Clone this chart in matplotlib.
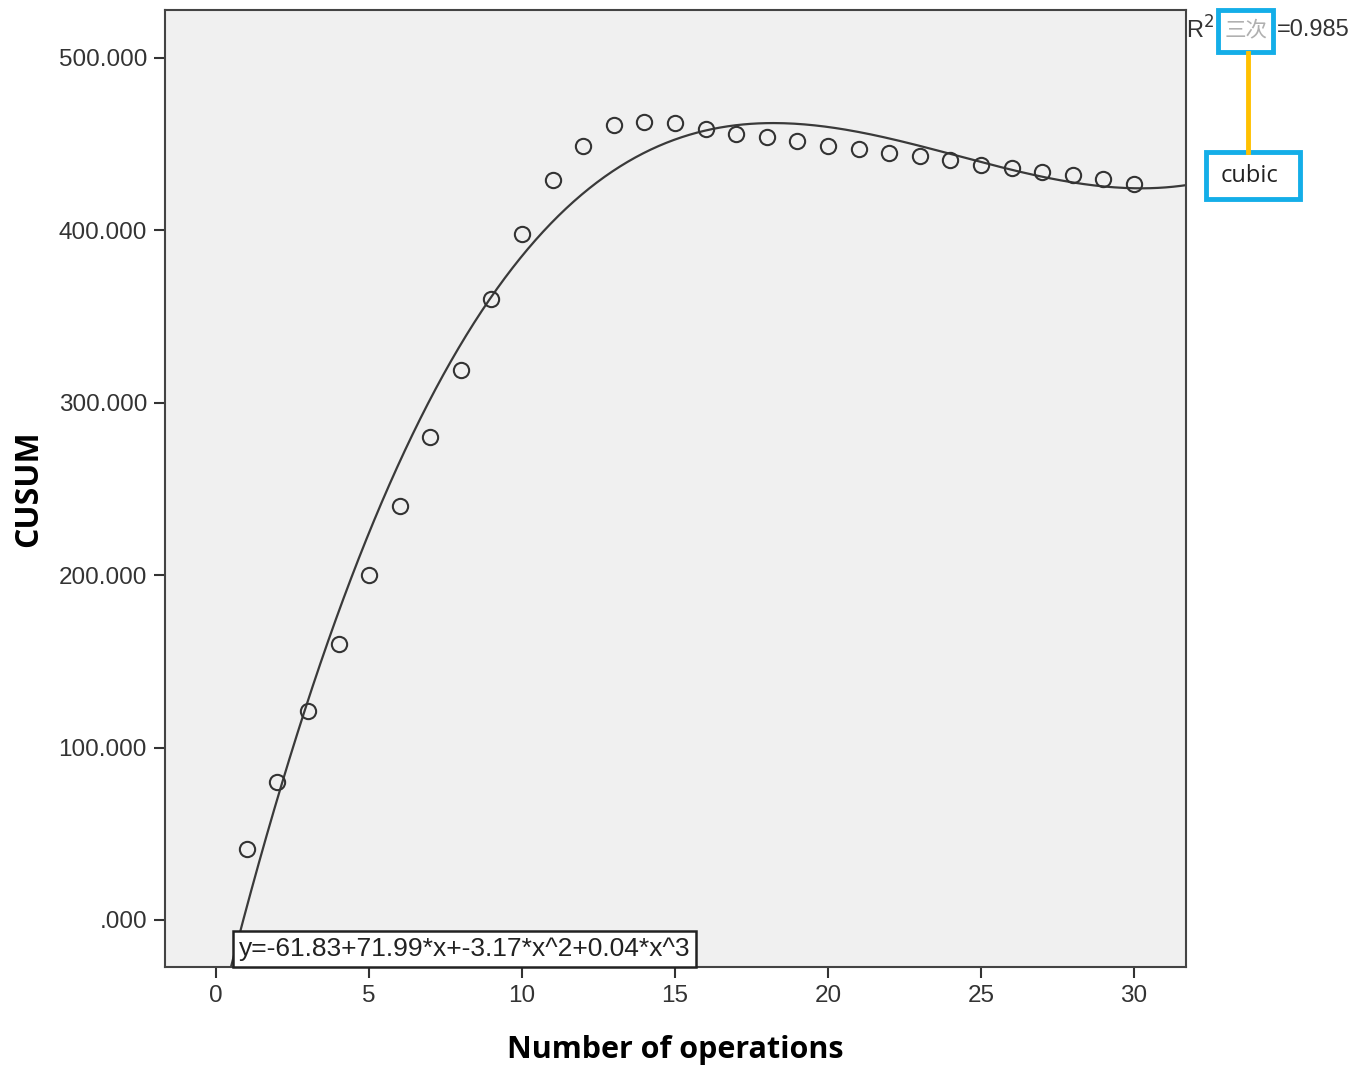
import numpy as np
import matplotlib
matplotlib.use("Agg")
import matplotlib.pyplot as plt
from matplotlib.ticker import FuncFormatter
from matplotlib.patches import Rectangle

plt.rcParams['font.family'] = ['Liberation Sans', 'Noto Sans CJK SC', 'DejaVu Sans']

operations = list(range(1, 31))
cusum = [41, 80, 121, 160, 200, 240, 280, 319, 360, 398,
         429, 449, 461, 463, 462, 459, 456, 454, 452, 449,
         447, 445, 443, 441, 438, 436, 434, 432, 430, 427]
x_ticks = [0, 5, 10, 15, 20, 25, 30]
y_ticks = [0, 100, 200, 300, 400, 500]
equation = "y=-61.83+71.99*x+-3.17*x^2+0.04*x^3"
r2_label = "=0.985"

fig = plt.figure(figsize=(13.65, 10.68), dpi=100)
ax = fig.add_axes([0.1209, 0.0946, 0.748, 0.896])
ax.set_facecolor('#f0f0f0')

coef = np.polyfit(operations, cusum, 3)
xs = np.linspace(-1.7, 31.7, 400)
ax.plot(xs, np.polyval(coef, xs), color='#3a3a3a', lw=1.6, zorder=2)
ax.plot(operations, cusum, 'o', ms=11, mfc='none', mec='#333333', mew=1.5, zorder=3)

ax.set_xlim(-1.67, 31.7)
ax.set_ylim(-27.3, 527.8)
ax.set_xticks(x_ticks)
ax.set_yticks(y_ticks)
ax.yaxis.set_major_formatter(FuncFormatter(lambda v, p: ".000" if v == 0 else f"{v:.3f}"))
ax.tick_params(direction='out', length=8, width=1.5, color='#333333',
               labelsize=17.5, labelcolor='#333333', pad=5)
for s in ax.spines.values():
    s.set_color('#444444')
    s.set_linewidth(1.5)

ax.set_xlabel("Number of operations", fontsize=22, fontweight='bold',
              family=['Open Sans', 'DejaVu Sans'], labelpad=20)
ax.set_ylabel("CUSUM", fontsize=23, fontweight='bold',
              family=['Open Sans', 'DejaVu Sans'], labelpad=10)

# equation box
ax.text(0.072, 0.006, equation, transform=ax.transAxes, fontsize=19, color='#222222',
        ha='left', va='bottom', zorder=4,
        bbox=dict(boxstyle='square,pad=0.22', fc='white', ec='#222222', lw=1.8))

# R^2 annotation on the right
fig.text(1186/1365, 1 - 30/1068, "R$^2$", fontsize=17, color='#333333', ha='left', va='center')
fig.text(1246/1365, 1 - 30/1068, "三次", fontsize=15.5, color='#b0b0b0', ha='center', va='center',
         family=['Noto Sans CJK SC', 'DejaVu Sans'])
fig.text(1277/1365, 1 - 30/1068, r2_label, fontsize=17, color='#333333', ha='left', va='center')

blue = '#14aee8'
fig.patches.append(Rectangle((1218/1365, 1 - 52/1068), 55/1365, 42/1068,
                             transform=fig.transFigure, fill=False, ec=blue, lw=3.5))
fig.add_artist(plt.Line2D([1248/1365, 1248/1365], [1 - 53/1068, 1 - 152/1068],
                          transform=fig.transFigure, color='#ffc000', lw=3.5))
fig.patches.append(Rectangle((1206/1365, 1 - 199/1068), 94/1365, 47/1068,
                             transform=fig.transFigure, fill=True, fc='white', ec=blue, lw=3.5))
fig.text(1249/1365, 1 - 176/1068, "cubic", fontsize=17, color='#222222', ha='center', va='center',
         family=['Open Sans', 'DejaVu Sans'])

fig.savefig("out.png", dpi=100)
